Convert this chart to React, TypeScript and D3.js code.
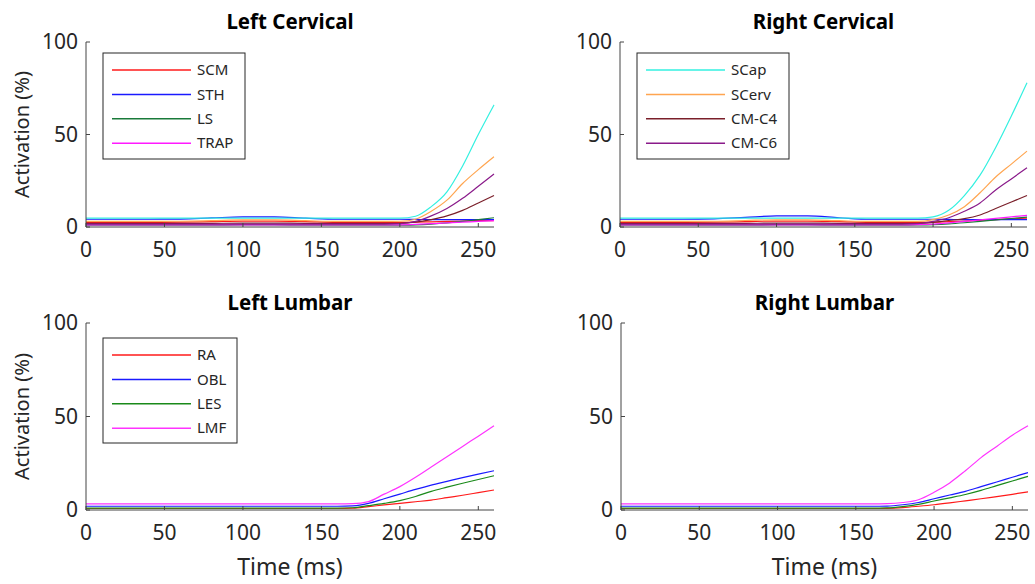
import React from 'react';
import * as d3 from 'd3';

// time samples (ms)
const time = [0, 20, 40, 60, 80, 100, 120, 140, 160, 170, 180, 190, 200, 210, 220, 230, 240, 250, 260];

const cervicalNames = ['SCM', 'STH', 'LS', 'TRAP', 'SCap', 'SCerv', 'CM-C4', 'CM-C6'];
const cervicalColors = ['#ff1a1a', '#1a1aff', '#1a7a3a', '#ff1aff', '#33f0e0', '#ffa550', '#7a1f2a', '#8a1a8a'];
const lumbarNames = ['RA', 'OBL', 'LES', 'LMF'];
const lumbarColors = ['#ff1a1a', '#1a1aff', '#1a8a1a', '#ff33ff'];

// Left cervical activation (%)
const lcSCM = [2.5, 2.5, 2.5, 2.6, 2.9, 3.2, 3.2, 2.9, 2.5, 2.5, 2.5, 2.5, 2.5, 2.6, 2.8, 3.0, 3.2, 3.4, 3.5];
const lcSTH = [4.2, 4.2, 4.2, 4.3, 4.9, 5.5, 5.5, 4.8, 4.2, 4.2, 4.2, 4.2, 4.2, 4.1, 4.0, 4.0, 4.0, 4.0, 4.0];
const lcLS = [1.0, 1.0, 1.0, 1.0, 1.0, 1.1, 1.1, 1.0, 1.0, 1.0, 1.0, 1.0, 1.0, 1.2, 1.6, 2.2, 3.0, 4.0, 5.0];
const lcTRAP = [1.2, 1.2, 1.2, 1.2, 1.2, 1.2, 1.2, 1.2, 1.2, 1.2, 1.2, 1.2, 1.2, 1.4, 1.8, 2.2, 2.6, 3.0, 3.4];
const lcSCap = [4.8, 4.8, 4.8, 4.8, 4.8, 4.8, 4.8, 4.8, 4.8, 4.8, 4.8, 4.8, 4.8, 5.8, 11, 19, 33, 50, 66];
const lcSCerv = [3.0, 3.0, 3.0, 3.1, 3.4, 3.8, 3.8, 3.4, 3.0, 3.0, 3.0, 3.0, 3.1, 4.2, 8.5, 14.5, 23.5, 31, 38];
const lcCMC4 = [2.0, 2.0, 2.0, 2.0, 2.0, 2.1, 2.1, 2.0, 2.0, 2.0, 2.0, 2.0, 2.0, 2.6, 4.0, 6.0, 9.0, 13, 17];
const lcCMC6 = [1.6, 1.6, 1.6, 1.6, 1.6, 1.6, 1.6, 1.6, 1.6, 1.6, 1.6, 1.6, 1.8, 3.0, 6.0, 10, 15.5, 22, 28.6];

// Right cervical activation (%)
const rcSCM = [2.5, 2.5, 2.5, 2.6, 2.9, 3.2, 3.2, 2.9, 2.5, 2.5, 2.5, 2.5, 2.6, 2.9, 3.2, 3.6, 4.0, 4.4, 4.8];
const rcSTH = [4.2, 4.2, 4.2, 4.4, 5.2, 6.0, 6.0, 5.0, 4.2, 4.2, 4.2, 4.2, 4.2, 4.1, 4.0, 4.0, 4.0, 4.0, 4.0];
const rcLS = [1.0, 1.0, 1.0, 1.0, 1.0, 1.1, 1.1, 1.0, 1.0, 1.0, 1.0, 1.1, 1.3, 1.7, 2.3, 3.0, 3.8, 4.6, 5.3];
const rcTRAP = [1.2, 1.2, 1.2, 1.2, 1.2, 1.2, 1.2, 1.2, 1.2, 1.2, 1.2, 1.3, 1.6, 2.2, 3.0, 3.8, 4.7, 5.5, 6.3];
const rcSCap = [4.8, 4.8, 4.8, 4.8, 4.8, 4.8, 4.8, 4.8, 4.8, 4.8, 4.8, 4.8, 5.5, 9, 17, 28, 43, 60, 78];
const rcSCerv = [3.0, 3.0, 3.0, 3.1, 3.5, 3.9, 3.9, 3.4, 3.0, 3.0, 3.0, 3.0, 4.0, 6.5, 11, 18.5, 27, 34, 41];
const rcCMC4 = [2.0, 2.0, 2.0, 2.0, 2.0, 2.1, 2.1, 2.0, 2.0, 2.0, 2.0, 2.0, 2.5, 3.5, 4.5, 6.5, 10, 13.5, 17];
const rcCMC6 = [1.6, 1.6, 1.6, 1.6, 1.6, 1.6, 1.6, 1.6, 1.6, 1.6, 1.6, 1.8, 3.0, 5.0, 8.5, 13, 20, 26, 32];

// Left lumbar activation (%)
const llRA = [0.8, 0.8, 0.8, 0.8, 0.8, 0.8, 0.8, 0.8, 0.8, 1.0, 1.8, 2.7, 3.5, 4.4, 5.3, 6.6, 7.9, 9.3, 10.7];
const llOBL = [2.0, 2.0, 2.0, 2.0, 2.0, 2.0, 2.0, 2.0, 2.0, 2.2, 3.5, 6.0, 8.5, 11, 13.3, 15.3, 17.3, 19.2, 21];
const llLES = [1.0, 1.0, 1.0, 1.0, 1.0, 1.0, 1.0, 1.0, 1.0, 1.2, 2.3, 3.5, 5.0, 7.2, 10, 12.2, 14.3, 16.3, 18.3];
const llLMF = [3.3, 3.3, 3.3, 3.3, 3.3, 3.3, 3.3, 3.3, 3.3, 3.4, 4.5, 8.5, 12.5, 17.5, 23, 28.5, 34, 39.5, 45];

// Right lumbar activation (%)
const rlRA = [0.8, 0.8, 0.8, 0.8, 0.8, 0.8, 0.8, 0.8, 0.8, 0.9, 1.3, 2.0, 2.8, 3.8, 4.9, 6.0, 7.2, 8.4, 9.7];
const rlOBL = [2.0, 2.0, 2.0, 2.0, 2.0, 2.0, 2.0, 2.0, 2.0, 2.1, 2.8, 4.0, 6.0, 8.0, 10, 12.5, 15, 17.5, 20];
const rlLES = [1.0, 1.0, 1.0, 1.0, 1.0, 1.0, 1.0, 1.0, 1.0, 1.1, 1.8, 3.0, 4.8, 6.5, 8.3, 10.5, 13, 15.5, 18];
const rlLMF = [3.3, 3.3, 3.3, 3.3, 3.3, 3.3, 3.3, 3.3, 3.3, 3.4, 4.0, 5.5, 9.5, 14.5, 21, 28, 34, 40, 45];

const xTicks = [0, 50, 100, 150, 200, 250];
const yTicks = [0, 50, 100];

const FONT = '"Noto Sans", "Open Sans", sans-serif';
const INK = '#262626';

type Panel = {
  title: string;
  left: number;
  right: number;
  top: number;
  bottom: number;
  series: number[][];
  names: string[];
  colors: string[];
  legend?: { x: number; y: number; w: number; h: number; from: number; to: number };
  yLabel?: boolean;
  xLabel?: boolean;
};

const panels: Panel[] = [
  {
    title: 'Left Cervical', left: 86, right: 494, top: 42, bottom: 227,
    series: [lcSCM, lcSTH, lcLS, lcTRAP, lcSCap, lcSCerv, lcCMC4, lcCMC6],
    names: cervicalNames, colors: cervicalColors,
    legend: { x: 103, y: 53, w: 142, h: 106, from: 0, to: 4 }, yLabel: true,
  },
  {
    title: 'Right Cervical', left: 620, right: 1027, top: 42, bottom: 227,
    series: [rcSCM, rcSTH, rcLS, rcTRAP, rcSCap, rcSCerv, rcCMC4, rcCMC6],
    names: cervicalNames, colors: cervicalColors,
    legend: { x: 637, y: 53, w: 152, h: 106, from: 4, to: 8 },
  },
  {
    title: 'Left Lumbar', left: 86, right: 494, top: 323, bottom: 510,
    series: [llRA, llOBL, llLES, llLMF],
    names: lumbarNames, colors: lumbarColors,
    legend: { x: 103, y: 338, w: 134, h: 105, from: 0, to: 4 }, yLabel: true, xLabel: true,
  },
  {
    title: 'Right Lumbar', left: 621, right: 1028, top: 323, bottom: 510,
    series: [rlRA, rlOBL, rlLES, rlLMF],
    names: lumbarNames, colors: lumbarColors, xLabel: true,
  },
];

const PanelView = ({ p }: { p: Panel }) => {
  const x = d3.scaleLinear().domain([0, 260]).range([p.left, p.right]);
  const y = d3.scaleLinear().domain([0, 100]).range([p.bottom, p.top]);
  const line = d3.line<number>()
    .curve(d3.curveMonotoneX)
    .x((_, i) => x(time[i]))
    .y(d => y(d));
  const cx = (p.left + p.right) / 2;
  const cy = (p.top + p.bottom) / 2;

  return (
    <g>
      <text x={cx} y={p.top - 13} textAnchor="middle" fontFamily={FONT} fontWeight="bold" fontSize={20.5} fill="#000">{p.title}</text>
      {p.series.map((s, i) => (
        <path key={p.names[i]} d={line(s) ?? ''} fill="none" stroke={p.colors[i]} strokeWidth={1.2} />
      ))}
      {/* axes */}
      <line x1={p.left} x2={p.left} y1={p.top} y2={p.bottom} stroke="#444" strokeWidth={1} />
      <line x1={p.left} x2={p.right} y1={p.bottom} y2={p.bottom} stroke="#444" strokeWidth={1} />
      {yTicks.map(t => (
        <g key={'y' + t}>
          <line x1={p.left} x2={p.left + 4} y1={y(t)} y2={y(t)} stroke="#444" />
          <text x={p.left - 8} y={y(t)} dy="0.35em" textAnchor="end" fontFamily={FONT} fontSize={21} fill={INK}>{t}</text>
        </g>
      ))}
      {xTicks.map(t => (
        <g key={'x' + t}>
          <line x1={x(t)} x2={x(t)} y1={p.bottom} y2={p.bottom - 4} stroke="#444" />
          <text x={x(t)} y={p.bottom + 30} textAnchor="middle" fontFamily={FONT} fontSize={21} fill={INK}>{t}</text>
        </g>
      ))}
      {p.yLabel && (
        <text transform={`translate(22,${cy}) rotate(-90)`} dy="0.35em" textAnchor="middle" fontFamily={FONT} fontSize={20} fill={INK}>Activation (%)</text>
      )}
      {p.xLabel && (
        <text x={cx} y={p.bottom + 65} textAnchor="middle" fontFamily={FONT} fontSize={23} fill={INK}>Time (ms)</text>
      )}
      {p.legend && (
        <g>
          <rect x={p.legend.x} y={p.legend.y} width={p.legend.w} height={p.legend.h} fill="#fff" stroke={INK} strokeWidth={1} />
          {p.names.slice(p.legend.from, p.legend.to).map((n, j) => {
            const k = p.legend!.from + j;
            const ry = p.legend!.y + 17 + j * 24.4;
            return (
              <g key={n}>
                <line x1={p.legend!.x + 9} x2={p.legend!.x + 88} y1={ry} y2={ry} stroke={p.colors[k]} strokeWidth={1.5} />
                <text x={p.legend!.x + 94} y={ry} dy="0.35em" fontFamily={FONT} fontSize={15} fill={INK}>{n}</text>
              </g>
            );
          })}
        </g>
      )}
    </g>
  );
};

export default function App() {
  return (
    <svg width={1035} height={584} style={{ position: 'absolute', left: 0, top: 0, background: '#fff' }}>
      {panels.map(p => <PanelView key={p.title} p={p} />)}
    </svg>
  );
}
